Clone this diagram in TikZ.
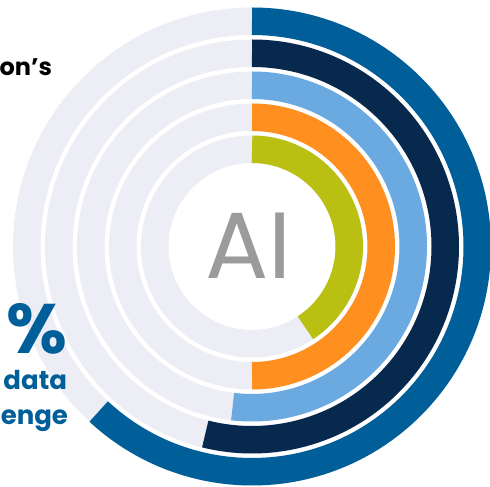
\documentclass[tikz,border=0pt]{standalone}
\usepackage{fontspec}
\setmainfont{Poppins}
\definecolor{bgring}{HTML}{EDEEF5}
\definecolor{cOuter}{HTML}{005F99}
\definecolor{cNavy}{HTML}{07294E}
\definecolor{cLight}{HTML}{6AAAE0}
\definecolor{cOrange}{HTML}{FF8F1F}
\definecolor{cGreen}{HTML}{B9C012}
\definecolor{cGrey}{HTML}{9B9B9B}
\definecolor{cText}{HTML}{005F99}
\begin{document}
\begin{tikzpicture}[x=1pt,y=1pt,
  ringbg/.style={draw=bgring,line width=27.5pt},
  ringarc/.style={line width=27.5pt},
  lbl/.style={inner sep=0pt,outer sep=0pt,text depth=0pt}]
\useasboundingbox (0,0) rectangle (490,487);
\coordinate (c) at (252,240.5);
% background rings
\foreach \r in {225.25,193.25,161.25,129.25,97.25}
  \draw[ringbg] (c) circle[radius=\r];
% coloured arcs (clockwise from top)
\draw[ringarc,cOuter]  (c) ++(90:225.25) arc[start angle=90,end angle=-132.9,radius=225.25];
\draw[ringarc,cNavy]   (c) ++(90:193.25) arc[start angle=90,end angle=-104,radius=193.25];
\draw[ringarc,cLight]  (c) ++(90:161.25) arc[start angle=90,end angle=-96.9,radius=161.25];
\draw[ringarc,cOrange] (c) ++(90:129.25) arc[start angle=90,end angle=-90,radius=129.25];
\draw[ringarc,cGreen]  (c) ++(90:97.25) arc[start angle=90,end angle=-56.7,radius=97.25];
% texts
\node[lbl,anchor=base,text=cGrey,font=\fontsize{94}{94}\selectfont] (ai) at (248.5,208) {AI};
\node[lbl,anchor=base east,font=\bfseries\fontsize{24}{24}\selectfont] (ons) at (52,411) {on’s};
\node[lbl,anchor=base east,text=cText,font=\bfseries\fontsize{70}{70}\selectfont] (pct) at (67,133) {\%};
\node[lbl,anchor=base east,text=cText,font=\bfseries\fontsize{26}{26}\selectfont] (data) at (67,97.5) {data};
\node[lbl,anchor=base east,text=cText,font=\bfseries\fontsize{26}{26}\selectfont] (enge) at (68,62) {enge};
\end{tikzpicture}
\end{document}
